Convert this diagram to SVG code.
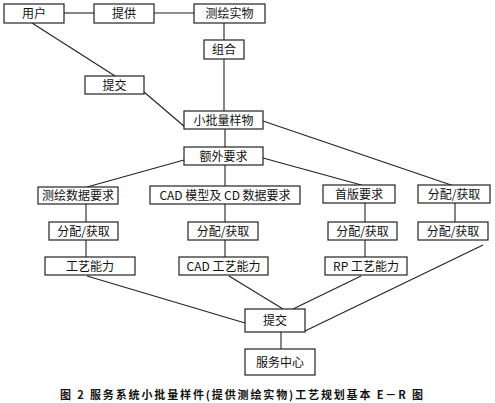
<svg xmlns="http://www.w3.org/2000/svg" width="495" height="403" viewBox="0 0 495 403">
<style>
.b{fill:#fff;stroke:#222;stroke-width:1.2}
.t{font-family:"Noto Sans CJK SC","Liberation Serif",sans-serif;font-size:12px;fill:#111;text-anchor:middle}
.c line{stroke:#222;stroke-width:1.1}
.cap{font-family:"Noto Sans CJK SC","Liberation Serif",sans-serif;font-size:11px;font-weight:bold;fill:#111}
</style>
<rect width="495" height="403" fill="#fff"/>
<g class="c" id="connectors">
<line x1="64" y1="13" x2="94" y2="13"/>
<line x1="154" y1="13" x2="194" y2="13"/>
<line x1="224" y1="23" x2="224" y2="40"/>
<line x1="224" y1="59" x2="224" y2="111"/>
<line x1="32" y1="23" x2="115" y2="76"/>
<line x1="144" y1="92" x2="185" y2="127"/>
<line x1="225" y1="129" x2="225" y2="147"/>
<line x1="263" y1="121" x2="454" y2="186"/>
<line x1="263" y1="158" x2="365" y2="186"/>
<line x1="184" y1="160" x2="87" y2="187"/>
<line x1="225" y1="165" x2="225" y2="186"/>
<line x1="86" y1="204" x2="86" y2="222"/>
<line x1="86" y1="240" x2="86" y2="257"/>
<line x1="225" y1="204" x2="225" y2="222"/>
<line x1="225" y1="240" x2="225" y2="257"/>
<line x1="365" y1="203" x2="365" y2="222"/>
<line x1="365" y1="240" x2="365" y2="257"/>
<line x1="455" y1="203" x2="455" y2="222"/>
<line x1="87" y1="276" x2="245" y2="323"/>
<line x1="229" y1="276" x2="283" y2="309"/>
<line x1="361" y1="276" x2="293" y2="309"/>
<line x1="483" y1="245" x2="305" y2="331"/>
<line x1="281" y1="332" x2="281" y2="349"/>
</g>
<g id="yonghu"><rect class="b" x="4" y="4" width="60" height="19"/><text class="t" x="34" y="18">用户</text></g>
<g id="tigong"><rect class="b" x="94" y="4" width="60" height="19"/><text class="t" x="124" y="18">提供</text></g>
<g id="cehuishiwu"><rect class="b" x="194" y="4" width="71" height="19"/><text class="t" x="229.5" y="18">测绘实物</text></g>
<g id="zuhe"><rect class="b" x="204" y="40" width="40" height="19"/><text class="t" x="224" y="54">组合</text></g>
<g id="tijiao1"><rect class="b" x="85" y="76" width="59" height="18"/><text class="t" x="114.5" y="89.5">提交</text></g>
<g id="xiaopiliang"><rect class="b" x="184" y="111" width="79" height="18"/><text class="t" x="223.5" y="124.5">小批量样物</text></g>
<g id="ewai"><rect class="b" x="184" y="147" width="79" height="18"/><text class="t" x="223.5" y="160.5">额外要求</text></g>
<g id="cehuishuju"><rect class="b" x="38" y="187" width="80" height="17"/><text class="t" x="78" y="200">测绘数据要求</text></g>
<g id="cadmoxing"><rect class="b" x="150" y="186" width="150" height="18"/><text class="t" x="225" y="199.5">CAD 模型及 CD 数据要求</text></g>
<g id="shouban"><rect class="b" x="323" y="185" width="72" height="18"/><text class="t" x="359" y="198.5">首版要求</text></g>
<g id="fenpei0"><rect class="b" x="418" y="185" width="72" height="18"/><text class="t" x="454" y="198.5">分配/获取</text></g>
<g id="fenpei1"><rect class="b" x="49" y="222" width="69" height="18"/><text class="t" x="83.5" y="235.5">分配/获取</text></g>
<g id="fenpei2"><rect class="b" x="188" y="222" width="70" height="18"/><text class="t" x="223" y="235.5">分配/获取</text></g>
<g id="fenpei3"><rect class="b" x="328" y="222" width="69" height="18"/><text class="t" x="362.5" y="235.5">分配/获取</text></g>
<g id="fenpei4"><rect class="b" x="418" y="222" width="70" height="18"/><text class="t" x="453" y="235.5">分配/获取</text></g>
<g id="gongyi"><rect class="b" x="45" y="257" width="90" height="18"/><text class="t" x="90" y="270.5">工艺能力</text></g>
<g id="cadgongyi"><rect class="b" x="179" y="257" width="89" height="18"/><text class="t" x="223.5" y="270.5">CAD 工艺能力</text></g>
<g id="rpgongyi"><rect class="b" x="325" y="257" width="82" height="18"/><text class="t" x="366" y="270.5">RP 工艺能力</text></g>
<g id="tijiao2"><rect class="b" x="245" y="309" width="60" height="23"/><text class="t" x="275" y="325">提交</text></g>
<g id="fuwuzhongxin"><rect class="b" x="245" y="349" width="70" height="26"/><text class="t" x="280" y="366.5">服务中心</text></g>
<text class="cap" x="60" y="399" textLength="363" lengthAdjust="spacing">图 2  服务系统小批量样件(提供测绘实物)工艺规划基本 E－R 图</text>
</svg>
